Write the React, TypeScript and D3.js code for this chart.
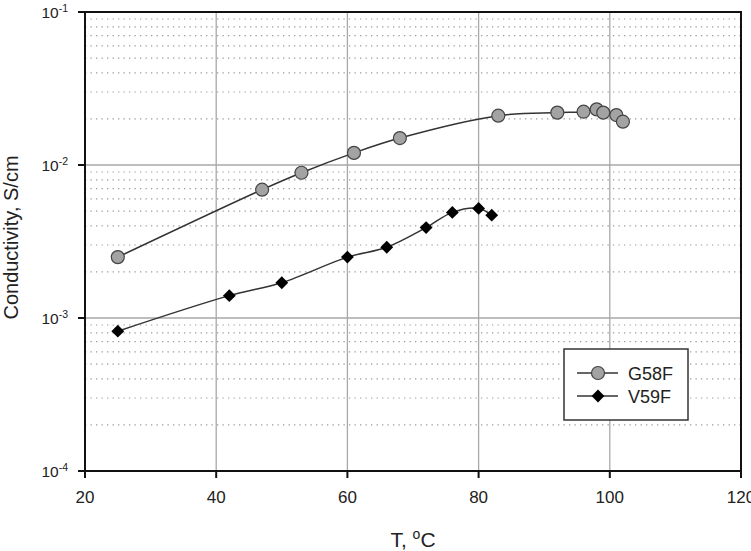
import React, { useEffect, useRef } from 'react';
import * as d3 from 'd3';

// temperature (°C) and conductivity (S/cm) for both membranes
const g58fT = [25, 47, 53, 61, 68, 83, 92, 96, 98, 99, 101, 102];
const g58fC = [2.5e-3, 6.9e-3, 8.9e-3, 1.2e-2, 1.5e-2, 2.1e-2, 2.2e-2, 2.23e-2, 2.31e-2, 2.2e-2, 2.12e-2, 1.92e-2];
const v59fT = [25, 42, 50, 60, 66, 72, 76, 80, 82];
const v59fC = [8.2e-4, 1.4e-3, 1.7e-3, 2.5e-3, 2.9e-3, 3.9e-3, 4.9e-3, 5.2e-3, 4.7e-3];

const xTicks = [20, 40, 60, 80, 100, 120];
const yExponents = [-1, -2, -3, -4];
const seriesNames = ['G58F', 'V59F'];

const W = 751;
const H = 551;
const margin = { top: 12, right: 10, bottom: 80, left: 85 };

const App = () => {
  const svgRef = useRef<SVGSVGElement>(null);

  useEffect(() => {
    const svg = d3.select(svgRef.current);
    svg.selectAll('*').remove();
    const font = 'Liberation Sans, Arial, sans-serif';

    const x = d3.scaleLinear().domain([20, 120]).range([margin.left, W - margin.right]);
    const y = d3.scaleLog().domain([1e-4, 1e-1]).range([H - margin.bottom, margin.top]);
    const [x0, x1] = x.range();
    const [y0, y1] = y.range();

    // dotted minor gridlines at 2..9 of each decade
    const minors: number[] = [];
    for (let e = -4; e < -1; e++) for (let m = 2; m <= 9; m++) minors.push(m * Math.pow(10, e));
    svg.append('g').selectAll('line').data(minors).join('line')
      .attr('x1', x0).attr('x2', x1)
      .attr('y1', d => y(d)).attr('y2', d => y(d))
      .attr('stroke', '#9a9a9a').attr('stroke-width', 1.2)
      .attr('stroke-dasharray', '1.3 4.2');

    // solid major gridlines
    svg.append('g').selectAll('line').data(yExponents.map(e => Math.pow(10, e))).join('line')
      .attr('x1', x0).attr('x2', x1)
      .attr('y1', d => y(d)).attr('y2', d => y(d))
      .attr('stroke', '#a8a8a8').attr('stroke-width', 1.3);
    svg.append('g').selectAll('line').data(xTicks.slice(1, -1)).join('line')
      .attr('x1', d => x(d)).attr('x2', d => x(d))
      .attr('y1', y0).attr('y2', y1)
      .attr('stroke', '#a8a8a8').attr('stroke-width', 1.3);

    // frame
    svg.append('rect')
      .attr('x', x0).attr('y', y1).attr('width', x1 - x0).attr('height', y0 - y1)
      .attr('fill', 'none').attr('stroke', '#111').attr('stroke-width', 2);

    // x axis ticks and labels
    const xa = svg.append('g');
    xa.selectAll('line').data(xTicks).join('line')
      .attr('x1', d => x(d)).attr('x2', d => x(d))
      .attr('y1', y0).attr('y2', y0 + 7)
      .attr('stroke', '#111').attr('stroke-width', 2);
    xa.selectAll('text').data(xTicks).join('text')
      .attr('x', d => x(d)).attr('y', y0 + 32)
      .attr('text-anchor', 'middle')
      .attr('font-family', font).attr('font-size', 17).attr('fill', '#222')
      .text(d => d);

    // y axis ticks and power-of-ten labels
    const ya = svg.append('g');
    ya.selectAll('line').data(yExponents).join('line')
      .attr('x1', x0 - 7).attr('x2', x0)
      .attr('y1', e => y(Math.pow(10, e))).attr('y2', e => y(Math.pow(10, e)))
      .attr('stroke', '#111').attr('stroke-width', 2);
    const yl = ya.selectAll('text').data(yExponents).join('text')
      .attr('x', x0 - 17).attr('y', e => y(Math.pow(10, e)) + 6)
      .attr('text-anchor', 'end')
      .attr('font-family', font).attr('font-size', 15.5).attr('fill', '#222');
    yl.append('tspan').text('10');
    yl.append('tspan').attr('dy', -6).attr('font-size', 10.5).text(e => `-${Math.abs(e)}`);

    // axis titles
    const xt = svg.append('text')
      .attr('x', (x0 + x1) / 2).attr('y', 547)
      .attr('text-anchor', 'middle')
      .attr('font-family', font).attr('font-size', 21).attr('fill', '#222');
    xt.append('tspan').text('T, ');
    xt.append('tspan').attr('dy', -8).attr('font-size', 14).text('o');
    xt.append('tspan').attr('dy', 8).text('C');

    svg.append('text')
      .attr('transform', `translate(18,${(y0 + y1) / 2 - 4}) rotate(-90)`)
      .attr('text-anchor', 'middle')
      .attr('font-family', font).attr('font-size', 20).attr('fill', '#222')
      .text('Conductivity, S/cm');

    const line = d3.line<[number, number]>()
      .x(d => x(d[0])).y(d => y(d[1]))
      .curve(d3.curveCatmullRom.alpha(0.5));

    const g58f: [number, number][] = g58fT.map((t, i) => [t, g58fC[i]]);
    const v59f: [number, number][] = v59fT.map((t, i) => [t, v59fC[i]]);

    svg.append('path').datum(g58f).attr('d', line)
      .attr('fill', 'none').attr('stroke', '#333').attr('stroke-width', 1.5);
    svg.append('path').datum(v59f).attr('d', line)
      .attr('fill', 'none').attr('stroke', '#333').attr('stroke-width', 1.5);

    const diamond = d3.symbol().type(d3.symbolDiamond2).size(105);

    svg.append('g').selectAll('circle').data(g58f).join('circle')
      .attr('cx', d => x(d[0])).attr('cy', d => y(d[1])).attr('r', 6.5)
      .attr('fill', '#a3a3a3').attr('stroke', '#444').attr('stroke-width', 1.2);
    svg.append('g').selectAll('path').data(v59f).join('path')
      .attr('d', diamond)
      .attr('transform', d => `translate(${x(d[0])},${y(d[1])})`)
      .attr('fill', '#000');

    // legend
    const lg = svg.append('g').attr('transform', 'translate(564,349)');
    lg.append('rect').attr('width', 124).attr('height', 71)
      .attr('fill', '#fff').attr('stroke', '#333').attr('stroke-width', 1.5);
    seriesNames.forEach((name, i) => {
      const cy = 24 + i * 23;
      lg.append('line').attr('x1', 13).attr('x2', 54).attr('y1', cy).attr('y2', cy)
        .attr('stroke', '#333').attr('stroke-width', 1.5);
      if (i === 0) {
        lg.append('circle').attr('cx', 34).attr('cy', cy).attr('r', 6.5)
          .attr('fill', '#a3a3a3').attr('stroke', '#444').attr('stroke-width', 1.2);
      } else {
        lg.append('path').attr('d', diamond).attr('transform', `translate(34,${cy})`).attr('fill', '#000');
      }
      lg.append('text').attr('x', 64).attr('y', cy + 6.5)
        .attr('font-family', font).attr('font-size', 18).attr('fill', '#222')
        .text(name);
    });
  }, []);

  return <svg ref={svgRef} width={W} height={H} style={{ position: 'absolute', left: 0, top: 0, background: '#fff' }} />;
};

export default App;
